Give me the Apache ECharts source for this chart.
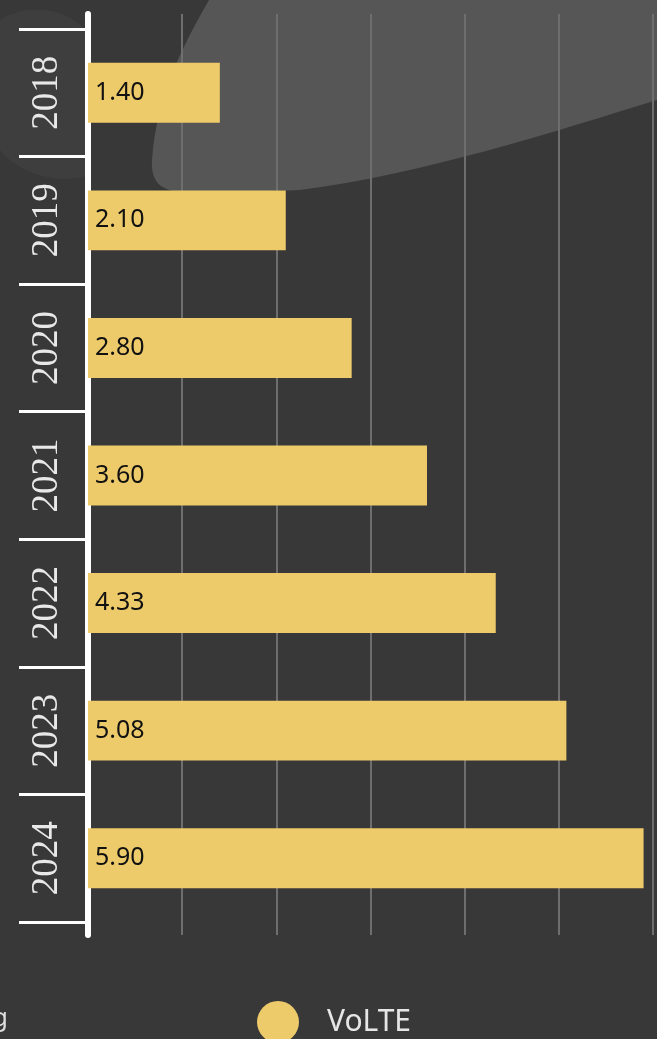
<!DOCTYPE html>
<html>
<head>
<meta charset="utf-8">
<script src="https://cdn.jsdelivr.net/npm/echarts@6/dist/echarts.min.js"></script>
<style>
  html, body { margin: 0; padding: 0; background: #383838; }
  #chart { width: 657px; height: 1039px; }
</style>
</head>
<body>
<div id="chart"></div>
<script>
// VoLTE subscribers per year
var years = ['2018', '2019', '2020', '2021', '2022', '2023', '2024'];
var volte = [1.40, 2.10, 2.80, 3.60, 4.33, 5.08, 5.90];
var seriesName = 'VoLTE';
var valueMin = 0;
var valueMax = 6;
var valueStep = 1;

// Turn a list of cubic bezier segments into polygon points for backdrop shapes.
function bezierOutline(start, segments, tail) {
  var pts = [start];
  var p0 = start;
  segments.forEach(function (s) {
    for (var i = 1; i <= 16; i++) {
      var t = i / 16, u = 1 - t;
      pts.push([
        u * u * u * p0[0] + 3 * u * u * t * s[0][0] + 3 * u * t * t * s[1][0] + t * t * t * s[2][0],
        u * u * u * p0[1] + 3 * u * u * t * s[0][1] + 3 * u * t * t * s[1][1] + t * t * t * s[2][1]
      ]);
    }
    p0 = s[2];
  });
  return pts.concat(tail || []);
}

var leftPatch = bezierOutline([0, 20], [
  [[30, 0], [80, 10], [90, 40]],
  [[90, 90], [90, 140], [90, 175]],
  [[60, 185], [20, 175], [0, 150]]
]);

var topSweep = bezierOutline([209, 0], [
  [[180, 50], [156, 100], [152, 160]],
  [[150, 190], [170, 193], [200, 193]],
  [[230, 192], [270, 191], [300, 190]],
  [[420, 175], [560, 130], [657, 100]]
], [[657, 0]]);

var chart = echarts.init(document.getElementById('chart'), null, { renderer: 'canvas' });

var option = {
  backgroundColor: '#383838',
  animation: false,
  graphic: {
    elements: [
      {
        type: 'polygon',
        z: -100,
        silent: true,
        shape: { points: leftPatch },
        style: { fill: '#3e3e3e' }
      },
      {
        type: 'polygon',
        z: -99,
        silent: true,
        shape: { points: topSweep },
        style: { fill: '#565656' }
      },
      {
        type: 'text',
        z: 10,
        silent: true,
        x: -8,
        y: 1006,
        style: { text: 'g', fill: '#dddddd', font: '26px "Noto Sans"' }
      }
    ]
  },
  legend: {
    data: [seriesName],
    left: 257,
    top: 1001,
    padding: 0,
    icon: 'circle',
    itemWidth: 42,
    itemHeight: 42,
    itemGap: 10,
    textStyle: {
      color: '#e6e6e6',
      fontFamily: 'Noto Sans',
      fontSize: 30,
      padding: [0, 0, 0, 23]
    }
  },
  grid: [
    { left: 88, right: 4, top: 29, bottom: 117, containLabel: false },
    { left: 88, right: 4, top: 14, bottom: 104, containLabel: false }
  ],
  xAxis: [
    {
      gridIndex: 0,
      type: 'value',
      min: valueMin,
      max: valueMax,
      interval: valueStep,
      show: false
    },
    {
      gridIndex: 1,
      type: 'value',
      min: valueMin,
      max: valueMax,
      interval: valueStep,
      axisLine: { show: false },
      axisTick: { show: false },
      axisLabel: { show: false },
      splitLine: { show: true, lineStyle: { color: '#6e6e6e', width: 2 } }
    }
  ],
  yAxis: [
    {
      gridIndex: 0,
      type: 'category',
      data: years,
      inverse: true,
      offset: 5,
      axisLine: { show: false },
      axisTick: {
        show: true,
        length: 69,
        lineStyle: { color: '#ffffff', width: 3 }
      },
      axisLabel: {
        rotate: 90,
        margin: 36,
        verticalAlign: 'middle',
        color: '#e8e8e8',
        fontFamily: 'Liberation Sans Narrow',
        fontSize: 37
      },
      splitLine: { show: false }
    },
    {
      gridIndex: 1,
      type: 'value',
      min: 0,
      max: 1,
      offset: 2,
      axisLine: { show: true, lineStyle: { color: '#ffffff', width: 6 } },
      axisTick: { show: false },
      axisLabel: { show: false },
      splitLine: { show: false }
    }
  ],
  series: [
    {
      name: seriesName,
      type: 'bar',
      xAxisIndex: 0,
      yAxisIndex: 0,
      data: volte,
      barWidth: '47%',
      itemStyle: { color: '#eecb6a' },
      label: {
        show: true,
        position: 'insideLeft',
        distance: 7,
        color: '#111111',
        fontFamily: 'Noto Sans',
        fontSize: 25,
        formatter: function (p) { return p.value.toFixed(2); }
      }
    }
  ]
};

chart.setOption(option);
</script>
</body>
</html>
